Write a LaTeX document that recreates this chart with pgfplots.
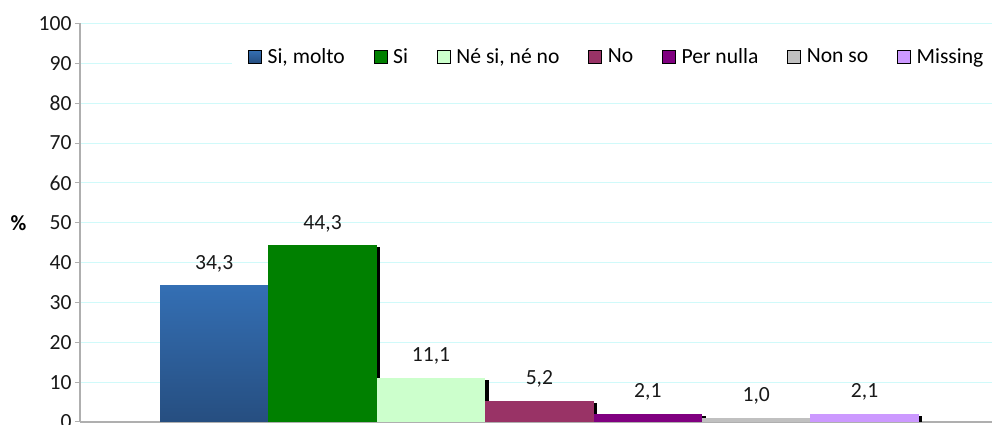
\documentclass[border=0pt]{standalone}
\usepackage{pgfplots}
\pgfplotsset{compat=1.18}
\usepackage{fontspec}
\setmainfont{Carlito}
\definecolor{sblueT}{RGB}{52,111,180}
\definecolor{sblueB}{RGB}{38,78,128}
\definecolor{sgreen}{HTML}{008000}
\definecolor{slgreen}{HTML}{CCFFCC}
\definecolor{smaroon}{HTML}{993366}
\definecolor{spurple}{HTML}{800080}
\definecolor{sgray}{HTML}{C0C0C0}
\definecolor{sviolet}{HTML}{CC99FF}
\definecolor{axisgray}{RGB}{175,175,175}
\definecolor{gridcyan}{RGB}{208,250,250}
\pgfplotsset{
  mybar/.style={ybar, bar width=108.4, bar shift=0pt, draw=none, forget plot,
    preaction={fill=black, draw=none, transform canvas={xshift=3.5pt, yshift=-2pt}}},
  legsq/.style={legend image code/.code={\fill[##1] (0pt,-6.5pt) rectangle (13pt,6.5pt);}},
}
\begin{document}
\begin{tikzpicture}[font=\fontsize{21.6}{26}\selectfont]
\begin{axis}[name=ax,
  width=919pt, height=398.5pt, scale only axis,
  xmin=0, xmax=919, ymin=0, ymax=100,
  axis x line*=bottom, axis y line*=left,
  axis line style={draw=axisgray, line width=1.5pt},
  xtick=\empty,
  ytick={0,10,...,100},
  ymajorgrids, grid style={draw=gridcyan, line width=0.8pt},
  major tick length=5pt, tick align=outside,
  tick style={draw=axisgray, line width=1pt},
  /pgf/number format/assume math mode=true,
  yticklabel style={text=black!90},
  ylabel={\textbf{\%}},
  every axis y label/.style={at={(axis description cs:0,0.5)}, anchor=center, xshift=-61.5pt},
  nodes near coords={\pgfmathprintnumber[fixed,fixed zerofill,precision=1,use comma,assume math mode=true]{\pgfplotspointmeta}},
  every node near coord/.append style={yshift=10pt, text=black!90},
  legend columns=7,
  legend style={draw=none, fill=white, at={(axis description cs:0.1654,0.917)}, anchor=west,
    inner xsep=16pt, inner ysep=8pt,
    nodes={inner xsep=0pt, inner ysep=2pt},
    /tikz/every odd column/.append style={column sep=6pt},
    /tikz/every even column/.append style={column sep=29pt}},
]
\addplot[mybar, top color=sblueT, bottom color=sblueB] coordinates {(134.2,34.3)};
\addplot[mybar, fill=sgreen] coordinates {(242.6,44.3)};
\addplot[mybar, fill=slgreen] coordinates {(351.0,11.1)};
\addplot[mybar, fill=smaroon] coordinates {(459.4,5.2)};
\addplot[mybar, fill=spurple] coordinates {(567.8,2.1)};
\addplot[mybar, fill=sgray] coordinates {(676.2,1.0)};
\addplot[mybar, fill=sviolet] coordinates {(784.6,2.1)};
\addlegendimage{legsq, top color=sblueT, bottom color=sblueB}
\addlegendentry{Si, molto}
\addlegendimage{legsq, fill=sgreen}
\addlegendentry{Si}
\addlegendimage{legsq, fill=slgreen}
\addlegendentry{Né si, né no}
\addlegendimage{legsq, fill=smaroon}
\addlegendentry{No}
\addlegendimage{legsq, fill=spurple}
\addlegendentry{Per nulla}
\addlegendimage{legsq, fill=sgray}
\addlegendentry{Non so}
\addlegendimage{legsq, fill=sviolet}
\addlegendentry{Missing}
\end{axis}
\pgfresetboundingbox
\path ([xshift=-80pt,yshift=-3pt]ax.south west) rectangle ++(992pt,425pt);
\end{tikzpicture}
\end{document}
